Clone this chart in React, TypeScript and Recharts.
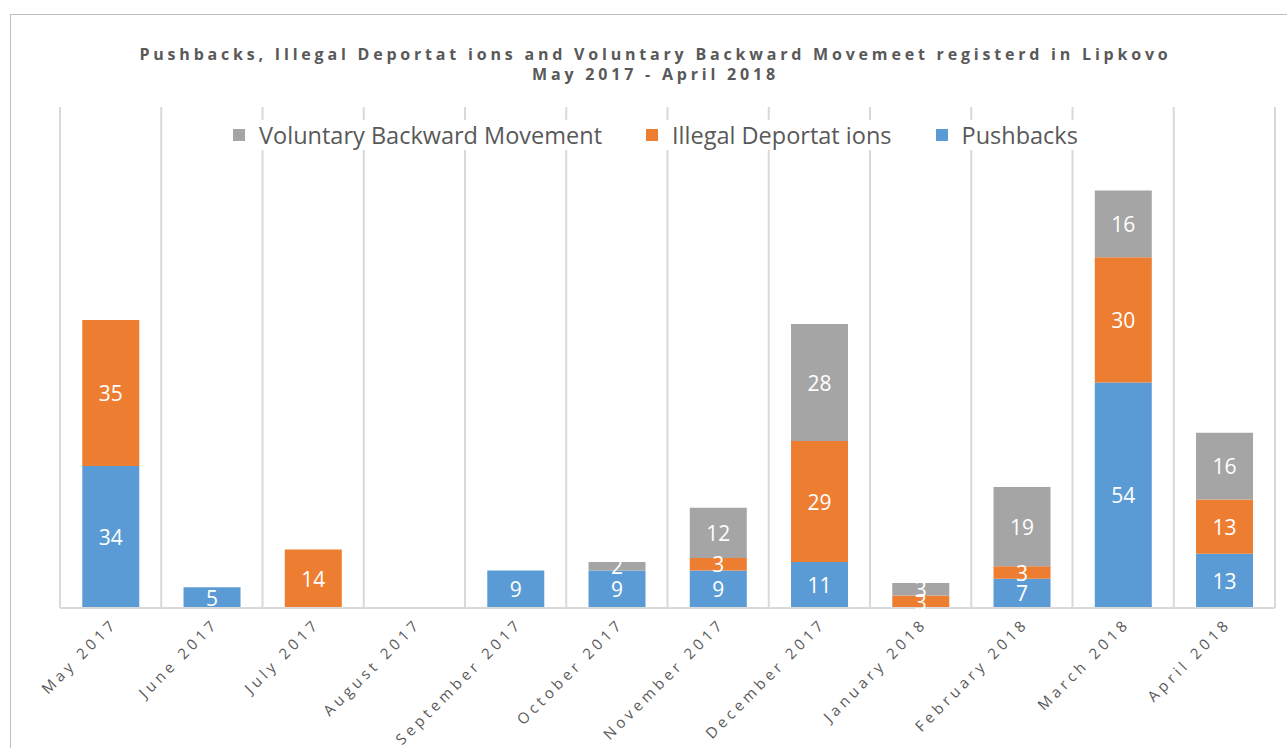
import React from 'react';
import { BarChart, Bar, XAxis, YAxis, CartesianGrid, Legend, LabelList } from 'recharts';

const categories = [
  'May 2017', 'June 2017', 'July 2017', 'August 2017', 'September 2017', 'October 2017',
  'November 2017', 'December 2017', 'January 2018', 'February 2018', 'March 2018', 'April 2018',
];
const pushbacks = [34, 5, 0, 0, 9, 9, 9, 11, 0, 7, 54, 13];
const illegalDeportations = [35, 0, 14, 0, 0, 0, 3, 29, 3, 3, 30, 13];
const voluntaryBackward = [0, 0, 0, 0, 0, 2, 12, 28, 3, 19, 16, 16];

const titleLine1 = 'Pushbacks, Illegal Deportat ions and Voluntary Backward Movemeet registerd in Lipkovo';
const titleLine2 = 'May 2017 - April 2018';

const COLORS = { pushbacks: '#5B9BD5', illegal: '#ED7D31', voluntary: '#A5A5A5' };
const NAMES = {
  pushbacks: 'Pushbacks',
  illegal: 'Illegal Deportat ions',
  voluntary: 'Voluntary Backward Movement',
};
const legendOrder = ['voluntary', 'illegal', 'pushbacks'] as const;

const data = categories.map((month, i) => ({
  month,
  pushbacks: pushbacks[i],
  illegal: illegalDeportations[i],
  voluntary: voluntaryBackward[i],
}));

const FONT = '"Open Sans", "DejaVu Sans", sans-serif';
const TEXT = '#595959';
const GRID = '#d9d9d9';

const BarLabel = (props: any) => {
  const { x, y, width, height, value } = props;
  return (
    <text
      x={Number(x) + Number(width) / 2}
      y={Number(y) + Number(height) / 2}
      fill="#ffffff"
      textAnchor="middle"
      dominantBaseline="central"
      fontSize={21}
      fontFamily={FONT}
    >
      {value}
    </text>
  );
};

const Tick = (props: any) => {
  const { x, y, payload } = props;
  return (
    <text
      transform={`translate(${x},${y + 1}) rotate(-45)`}
      textAnchor="end"
      dy="0.72em"
      fill={TEXT}
      fontSize={15}
      letterSpacing={4}
      fontFamily={FONT}
    >
      {payload.value}
    </text>
  );
};

const LegendContent = () => (
  <div style={{ textAlign: 'center' }}>
    <div style={{ display: 'inline-block', background: '#fff', padding: '0 4px', whiteSpace: 'nowrap' }}>
      {legendOrder.map((k) => (
        <span key={k} style={{ display: 'inline-flex', alignItems: 'center', margin: '0 22px' }}>
          <span style={{ display: 'inline-block', width: 12, height: 12, background: COLORS[k], marginRight: 14 }} />
          <span style={{ fontSize: 23.5, color: TEXT, fontFamily: FONT, lineHeight: '30px' }}>{NAMES[k]}</span>
        </span>
      ))}
    </div>
  </div>
);

export default function App() {
  return (
    <div style={{ position: 'absolute', left: 0, top: 0, width: 1287, height: 748, overflow: 'hidden', background: '#fff' }}>
      <div
        style={{
          position: 'absolute', left: 10, top: 14, width: 1400, height: 800,
          border: '1px solid #bfbfbf', boxSizing: 'border-box',
        }}
      />
      <div
        style={{
          position: 'absolute', left: 12, top: 44, width: 1287, textAlign: 'center',
          fontFamily: FONT, fontWeight: 'bold', fontSize: 16, letterSpacing: 3.8, color: TEXT, lineHeight: '20px',
        }}
      >
        <div>{titleLine1}</div>
        <div>{titleLine2}</div>
      </div>
      <div style={{ position: 'absolute', left: 0, top: 0 }}>
        <BarChart
          width={1287}
          height={748}
          data={data}
          margin={{ top: 107, right: 12, left: 60, bottom: 0 }}
          barCategoryGap="22%"
        >
          <CartesianGrid
            horizontal={false}
            stroke={GRID}
            strokeWidth={2}
            verticalCoordinatesGenerator={(p: any) => {
              const off = p && p.offset ? p.offset : { left: 60, width: 1215 };
              return Array.from({ length: categories.length + 1 }, (_, i) => off.left + (i * off.width) / categories.length);
            }}
          />
          <XAxis
            dataKey="month"
            height={140}
            interval={0}
            tickLine={false}
            axisLine={{ stroke: GRID, strokeWidth: 2 }}
            tick={<Tick />}
          />
          <YAxis hide domain={[0, 120]} />
          <Legend
            verticalAlign="middle"
            content={<LegendContent />}
            wrapperStyle={{ top: 120, left: 12, width: 1287 }}
          />
          <Bar dataKey="pushbacks" name={NAMES.pushbacks} stackId="a" fill={COLORS.pushbacks} isAnimationActive={false}>
            <LabelList dataKey="pushbacks" content={<BarLabel />} />
          </Bar>
          <Bar dataKey="illegal" name={NAMES.illegal} stackId="a" fill={COLORS.illegal} isAnimationActive={false}>
            <LabelList dataKey="illegal" content={<BarLabel />} />
          </Bar>
          <Bar dataKey="voluntary" name={NAMES.voluntary} stackId="a" fill={COLORS.voluntary} isAnimationActive={false}>
            <LabelList dataKey="voluntary" content={<BarLabel />} />
          </Bar>
        </BarChart>
      </div>
    </div>
  );
}
